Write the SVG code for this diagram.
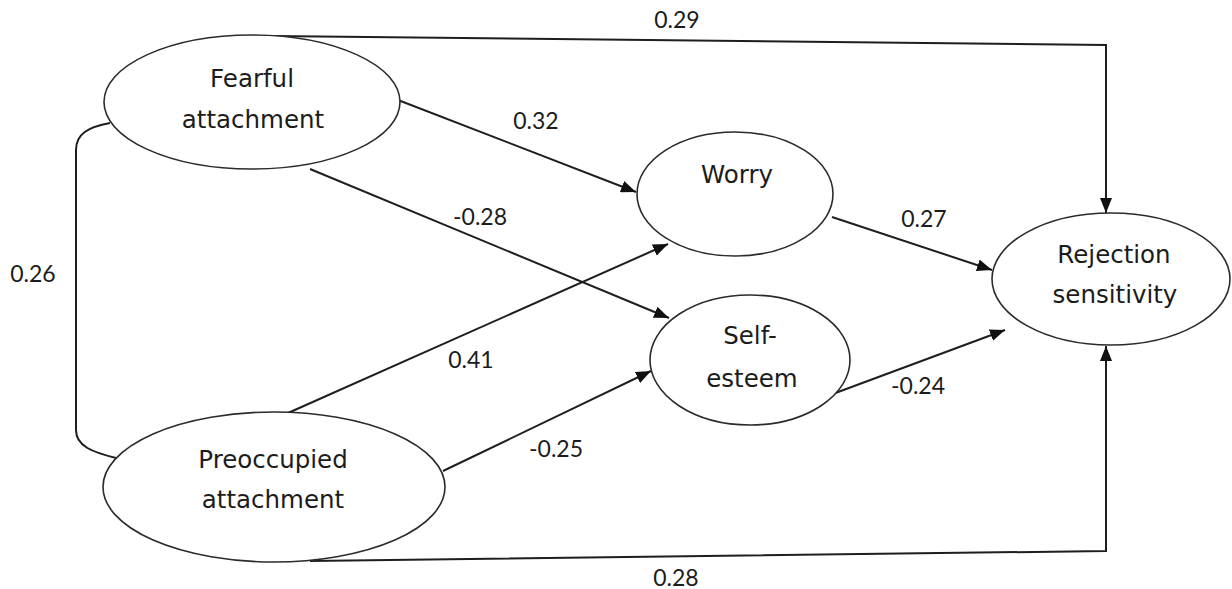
<svg xmlns="http://www.w3.org/2000/svg" width="1232" height="589" viewBox="0 0 1232 589">
  <style>
    .node ellipse { fill: #ffffff; stroke: #2b2b2b; stroke-width: 1.6; }
    .node text { font-family: "DejaVu Sans", "Liberation Sans", sans-serif; font-size: 24.5px; fill: #1c1c1c; text-anchor: middle; }
    .edge { fill: none; stroke: #1e1e1e; stroke-width: 2; }
    .arrow { marker-end: url(#head); }
    .coef { font-family: Lato, "Liberation Sans", sans-serif; font-size: 23px; fill: #1c1c1c; text-anchor: middle; }
  </style>
  <defs>
    <marker id="head" markerUnits="userSpaceOnUse" markerWidth="16" markerHeight="12" refX="15" refY="6" orient="auto">
      <path d="M0,0 L15,6 L0,12 z" fill="#111111"/>
    </marker>
  </defs>
  <rect width="1232" height="589" fill="#ffffff"/>

  <!-- paths between constructs -->
  <g id="connectors">
    <path class="edge" d="M110,123 C88,127 76,134 76,150 L76,430 C76,446 92,452 116,458"/>
    <path class="edge arrow" d="M272,36 L1106,45 L1106,213"/>
    <path class="edge arrow" d="M310,561 L1106,551 L1106,346"/>
    <line class="edge arrow" x1="398" y1="100" x2="636" y2="192"/>
    <line class="edge arrow" x1="310" y1="169" x2="669" y2="318"/>
    <line class="edge arrow" x1="288" y1="413" x2="668" y2="244"/>
    <line class="edge arrow" x1="443" y1="471" x2="651" y2="371"/>
    <line class="edge arrow" x1="832" y1="217" x2="992" y2="270"/>
    <line class="edge arrow" x1="830" y1="395" x2="1005" y2="330"/>
  </g>

  <g id="coefficients">
    <text class="coef" x="677" y="28">0.29</text>
    <text class="coef" x="536" y="129">0.32</text>
    <text class="coef" x="480" y="225">-0.28</text>
    <text class="coef" x="33" y="282">0.26</text>
    <text class="coef" x="471" y="368">0.41</text>
    <text class="coef" x="556" y="457">-0.25</text>
    <text class="coef" x="924" y="227">0.27</text>
    <text class="coef" x="918" y="394">-0.24</text>
    <text class="coef" x="676" y="586">0.28</text>
  </g>

  <g id="fearful" class="node">
    <ellipse cx="252" cy="102" rx="148" ry="67"/>
    <text x="252" y="87">Fearful</text>
    <text x="253" y="128">attachment</text>
  </g>

  <g id="preoccupied" class="node">
    <ellipse cx="274" cy="487" rx="171" ry="75"/>
    <text x="273" y="468">Preoccupied</text>
    <text x="273" y="508">attachment</text>
  </g>

  <g id="worry" class="node">
    <ellipse cx="735" cy="194" rx="98" ry="62"/>
    <text x="737" y="183">Worry</text>
  </g>

  <g id="self-esteem" class="node">
    <ellipse cx="750" cy="360" rx="100" ry="65"/>
    <text x="750" y="344">Self-</text>
    <text x="752" y="387">esteem</text>
  </g>

  <g id="rejection-sensitivity" class="node">
    <ellipse cx="1111" cy="279" rx="119" ry="66"/>
    <text x="1114" y="263">Rejection</text>
    <text x="1115" y="303">sensitivity</text>
  </g>
</svg>
